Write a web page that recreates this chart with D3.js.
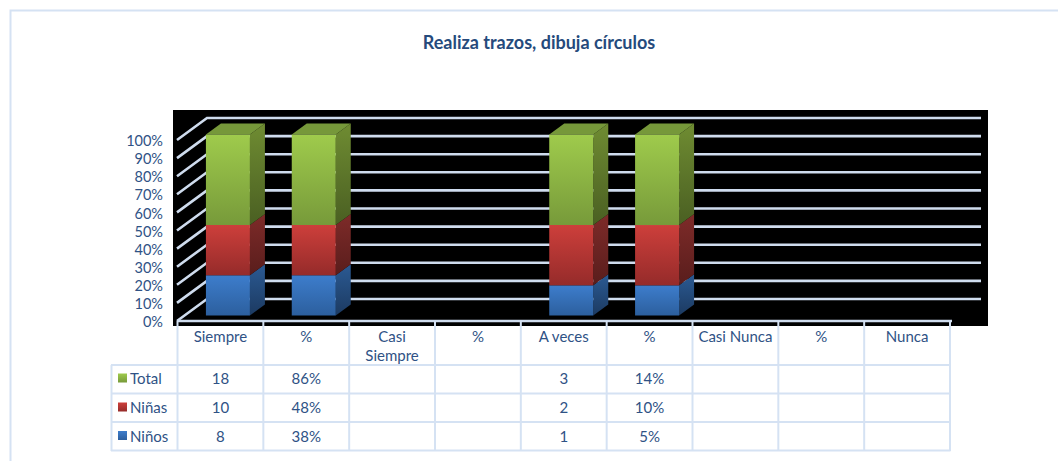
<!DOCTYPE html>
<html>
<head>
<meta charset="utf-8">
<script src="https://cdn.jsdelivr.net/npm/d3@7"></script>
<style>
html,body{margin:0;padding:0;background:#fff;overflow:hidden}
svg{display:block}
text{font-family:Lato,"Open Sans",sans-serif;fill:#2f5285}
</style>
</head>
<body>
<script>
var categories = ["Siempre","%","Casi Siempre","%","A veces","%","Casi Nunca","%","Nunca"];
var ninos = [8,38.1,null,null,1,4.76,null,null,null];
var ninas = [10,47.62,null,null,2,9.52,null,null,null];
var total = [18,85.71,null,null,3,14.29,null,null,null];
var seriesNames = ["Niños","Niñas","Total"];
var seriesValues = [ninos,ninas,total];
var yTicks = [0,0.1,0.2,0.3,0.4,0.5,0.6,0.7,0.8,0.9,1];

var width = 1058, height = 461;
var wallX = 30, wallY = -22;       // floor depth on screen
var lineColor = "#d5e2f3", gridColor = "#cfdcee";

var faceColors = {
  "Niños":{front:["#3d7dcc","#2c5f9e"],side:["#2b5a93","#1c3a61"]},
  "Niñas":{front:["#cd3f3b","#952b2a"],side:["#7e2b29","#591d1c"]},
  "Total":{front:["#9fcb4c","#779a3a"],side:["#6f8c32","#4a5f22"],top:"#76983a"}
};

var svg = d3.select("body").append("svg")
    .attr("width",width)
    .attr("height",height);

var defs = svg.append("defs");
function addGradient(id,cols)
{
    var g = defs.append("linearGradient").attr("id",id)
        .attr("x1",0).attr("y1",0).attr("x2",0).attr("y2",1);
    g.append("stop").attr("offset","0%").attr("stop-color",cols[0]);
    g.append("stop").attr("offset","100%").attr("stop-color",cols[1]);
}
seriesNames.forEach(function(n,i)
{
    addGradient("front"+i,faceColors[n].front);
    addGradient("side"+i,faceColors[n].side);
});

// outer frame, only top and left are visible
svg.append("path")
    .attr("d",d3.line()([[10.5,height],[10.5,10.5],[width,10.5]]))
    .attr("fill","none").attr("stroke",lineColor).attr("stroke-width",2);

svg.append("text")
    .attr("x",539).attr("y",49)
    .attr("text-anchor","middle")
    .style("font-weight","700").style("font-size","18px").style("fill","#254a7c")
    .text("Realiza trazos, dibuja círculos");

svg.append("rect")
    .attr("x",173).attr("y",110).attr("width",815).attr("height",216)
    .attr("fill","#000");

var x = d3.scaleBand().domain(d3.range(categories.length)).range([177.5,950]);
var y = d3.scaleLinear().domain([0,1]).range([321,140]);

// walls
svg.append("g").selectAll("path")
    .data(yTicks)
    .enter()
    .append("path")
    .attr("d",function(d)
    {
        return d3.line()([[177,y(d)],[177+wallX,y(d)+wallY],[981,y(d)+wallY]]);
    })
    .attr("fill","none")
    .attr("stroke",gridColor)
    .attr("stroke-width",2.6);

svg.append("line")
    .attr("x1",177).attr("x2",952)
    .attr("y1",y(0)).attr("y2",y(0))
    .attr("stroke",gridColor).attr("stroke-width",2.6);

var yAxis = d3.axisLeft(y).tickValues(yTicks).tickSize(0).tickPadding(0).tickFormat(d3.format(".0%"));
var yGroup = svg.append("g").attr("transform","translate(163,1)").call(yAxis);
yGroup.select(".domain").remove();
yGroup.selectAll("text").style("font-size","14.5px").attr("font-family",null);

// stacked columns
var rows = categories.map(function(c,i)
{
    return {"Niños":ninos[i]||0,"Niñas":ninas[i]||0,"Total":total[i]||0};
});
var stacked = d3.stack().keys(seriesNames).offset(d3.stackOffsetExpand)(rows);

var barW = 44, depthX = 15, depthY = -11;
var nearX = 7.5, nearY = -5.5;

stacked.forEach(function(layer,s)
{
    var g = svg.append("g");
    var name = seriesNames[s];
    var cols = layer.map(function(d,i){return {i:i,y0:d[0],y1:d[1]};})
        .filter(function(d){return d.y1>d.y0;});

    function left(d){return x(d.i)+x.bandwidth()/2-barW/2+nearX;}

    g.selectAll("path.side")
        .data(cols)
        .enter()
        .append("path")
        .attr("d",function(d)
        {
            var r = left(d)+barW, b = y(d.y0)+nearY, t = y(d.y1)+nearY;
            return d3.line()([[r,b],[r+depthX,b+depthY],[r+depthX,t+depthY],[r,t]])+"Z";
        })
        .attr("fill","url(#side"+s+")");

    g.selectAll("rect")
        .data(cols)
        .enter()
        .append("rect")
        .attr("x",left)
        .attr("y",function(d){return y(d.y1)+nearY;})
        .attr("width",barW)
        .attr("height",function(d){return y(d.y0)-y(d.y1);})
        .attr("fill","url(#front"+s+")");

    if(faceColors[name].top)
    {
        g.selectAll("path.top")
            .data(cols)
            .enter()
            .append("path")
            .attr("d",function(d)
            {
                var l = left(d), t = y(d.y1)+nearY;
                return d3.line()([[l,t],[l+depthX,t+depthY],[l+barW+depthX,t+depthY],[l+barW,t]])+"Z";
            })
            .attr("fill",faceColors[name].top);
    }
});

// data table below the axis
var rowLines = [365,393.5,422,450.5];
var rowCenters = [379,408,436.5];
var tableRows = [
  {name:"Total",values:total,id:2},
  {name:"Niñas",values:ninas,id:1},
  {name:"Niños",values:ninos,id:0}
];
var table = svg.append("g");

table.selectAll("line.h")
    .data(rowLines)
    .enter()
    .append("line")
    .attr("class","h")
    .attr("x1",111)
    .attr("x2",950.5)
    .attr("y1",function(d){return d;})
    .attr("y2",function(d){return d;})
    .attr("stroke",lineColor).attr("stroke-width",2);

table.selectAll("line.v")
    .data(d3.range(categories.length+1))
    .enter()
    .append("line")
    .attr("class","v")
    .attr("x1",function(i){return i<categories.length?x(i):x.range()[1];})
    .attr("x2",function(i){return i<categories.length?x(i):x.range()[1];})
    .attr("y1",321)
    .attr("y2",451)
    .attr("stroke",lineColor).attr("stroke-width",2);

table.append("line")
    .attr("x1",111.5).attr("x2",111.5).attr("y1",365).attr("y2",451)
    .attr("stroke",lineColor).attr("stroke-width",2);

function cx(i){return x(i)+x.bandwidth()/2;}

categories.forEach(function(c,i)
{
    var t = table.append("text").attr("text-anchor","middle").style("font-size","15px");
    if(c=="Casi Siempre")
    {
        t.append("tspan").attr("x",cx(i)).attr("y",342).text("Casi");
        t.append("tspan").attr("x",cx(i)).attr("y",361).text("Siempre");
    }
    else
    {
        t.attr("x",cx(i)).attr("y",342).text(c);
    }
});

tableRows.forEach(function(r,k)
{
    table.append("rect")
        .attr("x",118).attr("y",rowCenters[k]-5.5)
        .attr("width",9).attr("height",9)
        .attr("fill","url(#front"+r.id+")");
    table.append("text")
        .attr("x",130).attr("y",rowCenters[k]+5)
        .style("font-size","15px")
        .text(r.name);
    var cells = r.values.map(function(v,i){return {v:v,i:i};})
        .filter(function(d){return d.v!==null;});
    table.selectAll("text.val"+k)
        .data(cells)
        .enter()
        .append("text")
        .attr("class","val"+k)
        .attr("x",function(d){return cx(d.i);})
        .attr("y",rowCenters[k]+5)
        .attr("text-anchor","middle")
        .style("font-size","15px")
        .text(function(d){return categories[d.i]=="%"?Math.round(d.v)+"%":d.v;});
});
</script>
</body>
</html>
